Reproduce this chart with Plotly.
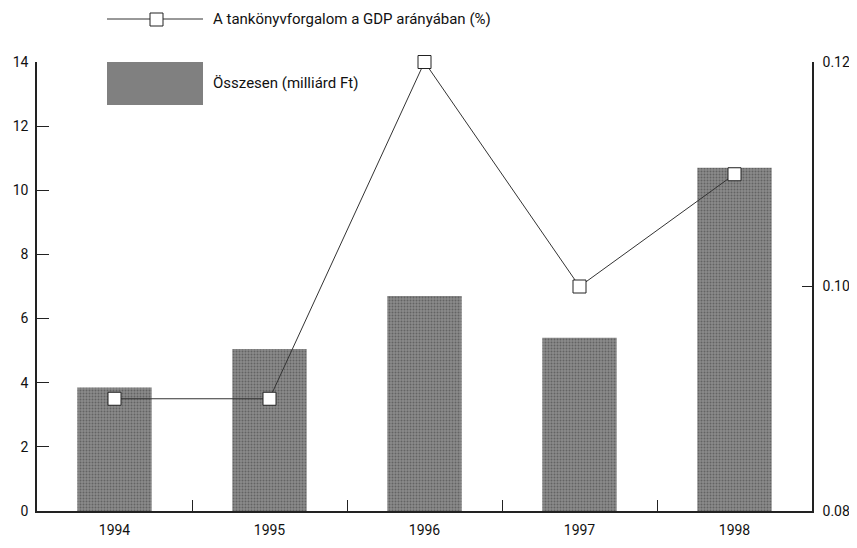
import plotly.graph_objects as go

years = ["1994", "1995", "1996", "1997", "1998"]
total_bn_ft = [3.85, 5.05, 6.7, 5.4, 10.7]
gdp_share_pct = [0.090, 0.090, 0.120, 0.100, 0.110]
left_ticks = [0, 2, 4, 6, 8, 10, 12, 14]
right_ticks = [0.08, 0.10, 0.12]
right_labels = ["0.08", "0.10", "0.12"]

line_name = "A tankönyvforgalom a GDP arányában (%)"
bar_name = "Összesen (milliárd Ft)"

FONT = "Roboto, Liberation Sans Narrow, sans-serif"
fnt = dict(family=FONT, size=15, color="#111")
tfnt = dict(family=FONT, size=14, color="#111")

OFF = 8  # page body margin
fig = go.Figure()
fig.add_trace(go.Bar(
    x=years, y=total_bn_ft, name=bar_name, width=0.48,
    marker=dict(color="#8a8a8a", line=dict(width=0),
                pattern=dict(shape=".", fgcolor="#3c3c3c", size=3, solidity=0.35)),
    yaxis="y", showlegend=False,
))
fig.add_trace(go.Scatter(
    x=years, y=gdp_share_pct, name=line_name, mode="lines+markers",
    line=dict(color="#333333", width=1),
    marker=dict(symbol="square", size=13, color="white", line=dict(color="#222222", width=1)),
    yaxis="y2", showlegend=False, cliponaxis=False,
))

W0, W1 = 37 - OFF, 812 - OFF
T, B = 62 - OFF, 511 - OFF
FW, FH = 857 - OFF, 548 - OFF
def px(x):
    return (x - OFF - W0) / (W1 - W0)
def py(y):
    return (B - (y - OFF)) / (B - T)

fig.add_shape(type="line", xref="paper", yref="paper", x0=px(107), x1=px(203), y0=py(19), y1=py(19),
              line=dict(color="#333333", width=1))
fig.add_shape(type="rect", xref="paper", yref="paper", x0=px(150), x1=px(163), y0=py(26), y1=py(13),
              fillcolor="white", line=dict(color="#222222", width=1))
fig.add_shape(type="rect", xref="paper", yref="paper", x0=px(107), x1=px(203), y0=py(105), y1=py(62),
              fillcolor="#808080", line=dict(width=0))
fig.add_annotation(xref="paper", yref="paper", x=px(211), y=py(19), text=line_name, showarrow=False,
                   xanchor="left", yanchor="middle", font=fnt)
fig.add_annotation(xref="paper", yref="paper", x=px(211), y=py(83), text=bar_name, showarrow=False,
                   xanchor="left", yanchor="middle", font=fnt)

fig.update_layout(
    width=FW, height=FH,
    margin=dict(l=W0, r=FW - W1, t=T, b=FH - B, autoexpand=False),
    paper_bgcolor="white", plot_bgcolor="white",
    font=fnt,
    bargap=0.52,
    xaxis=dict(type="category", showline=True, linecolor="#222", linewidth=1.5,
               ticks="inside", ticklen=11, tickcolor="#222", tickson="boundaries",
               showgrid=False, range=[-0.5, 4.5], ticklabelstandoff=5, automargin=False,
               tickfont=tfnt),
    yaxis=dict(range=[0, 14], tickvals=left_ticks, showline=True, linecolor="#222", linewidth=1.5,
               ticks="inside", ticklen=12, tickcolor="#222", showgrid=False, zeroline=False,
               ticklabelstandoff=4, automargin=False, tickfont=tfnt),
    yaxis2=dict(range=[0.08, 0.12], tickvals=right_ticks, ticktext=right_labels, overlaying="y",
                side="right", showline=True, linecolor="#222", linewidth=1.5,
                ticks="inside", ticklen=10, tickcolor="#222", showgrid=False, zeroline=False,
                ticklabelstandoff=6, automargin=False, tickfont=tfnt),
)

fig.write_html("out.html")
